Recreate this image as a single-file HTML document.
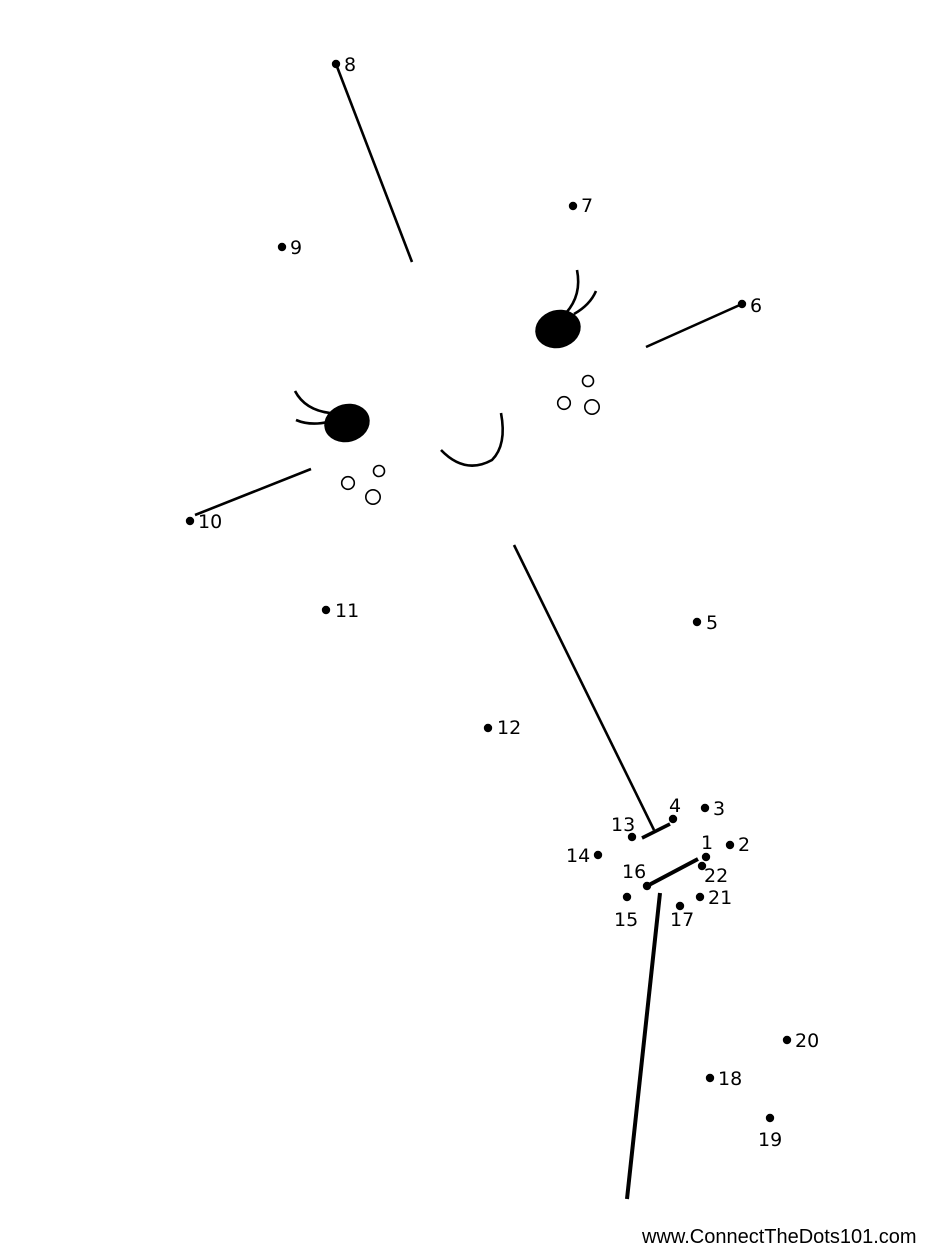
<!DOCTYPE html>
<html><head><meta charset="utf-8"><style>
html,body{margin:0;padding:0;background:#fff;}
svg{display:block}
text{font-family:"DejaVu Sans","Liberation Sans",sans-serif;font-size:19px;fill:#000}
</style></head><body>
<svg width="927" height="1250" viewBox="0 0 927 1250" xmlns="http://www.w3.org/2000/svg">
<g stroke="#000" fill="none" stroke-width="2.6" stroke-linecap="butt">
<line x1="336" y1="64" x2="412" y2="262"/>
<line x1="742" y1="304" x2="646" y2="347"/>
<line x1="195" y1="515" x2="311" y2="469"/>
<line x1="514" y1="545" x2="654" y2="830"/>
<line x1="642" y1="838" x2="670" y2="824" stroke-width="3.5"/>
<line x1="647" y1="886" x2="698" y2="859" stroke-width="4"/>
<line x1="660" y1="893" x2="627" y2="1199" stroke-width="4"/>
<path d="M566,313 Q582,295 577,270"/>
<path d="M574,314 Q590,305 596,291"/>
<path d="M295,391 Q305,410 330,413"/>
<path d="M296,420 Q310,426 328,422"/>
<path d="M441,450 Q465,475 492,460 Q507,445 501,413"/>
<circle cx="588" cy="381" r="5.5" stroke-width="1.6"/>
<circle cx="564" cy="403" r="6.3" stroke-width="1.6"/>
<circle cx="592" cy="407" r="7.2" stroke-width="1.6"/>
<circle cx="379" cy="471" r="5.5" stroke-width="1.6"/>
<circle cx="348" cy="483" r="6.3" stroke-width="1.6"/>
<circle cx="373" cy="497" r="7.2" stroke-width="1.6"/>
</g>
<ellipse cx="558" cy="329" rx="23" ry="19" transform="rotate(-15 558 329)" fill="#000"/>
<ellipse cx="347" cy="423" rx="23" ry="19" transform="rotate(-15 347 423)" fill="#000"/>
<g fill="#000">
<circle cx="336" cy="64" r="4.2"/><circle cx="573" cy="206" r="4.2"/><circle cx="282" cy="247" r="4.2"/>
<circle cx="742" cy="304" r="4.2"/><circle cx="190" cy="521" r="4.2"/><circle cx="326" cy="610" r="4.2"/>
<circle cx="697" cy="622" r="4.2"/><circle cx="488" cy="728" r="4.2"/><circle cx="705" cy="808" r="4.2"/>
<circle cx="673" cy="819" r="4.2"/><circle cx="632" cy="837" r="4.2"/><circle cx="730" cy="845" r="4.2"/>
<circle cx="598" cy="855" r="4.2"/><circle cx="706" cy="857" r="4.2"/><circle cx="702" cy="866" r="4.2"/>
<circle cx="647" cy="886" r="4.2"/><circle cx="627" cy="897" r="4.2"/><circle cx="700" cy="897" r="4.2"/>
<circle cx="680" cy="906" r="4.2"/><circle cx="787" cy="1040" r="4.2"/><circle cx="710" cy="1078" r="4.2"/>
<circle cx="770" cy="1118" r="4.2"/>
</g>
<text x="344" y="71">8</text>
<text x="581" y="212">7</text>
<text x="290" y="254">9</text>
<text x="750" y="312">6</text>
<text x="198" y="528">10</text>
<text x="335" y="617">11</text>
<text x="706" y="629">5</text>
<text x="497" y="734">12</text>
<text x="713" y="815">3</text>
<text x="669" y="812">4</text>
<text x="611" y="831">13</text>
<text x="738" y="851">2</text>
<text x="566" y="862">14</text>
<text x="701" y="849">1</text>
<text x="704" y="882">22</text>
<text x="622" y="878">16</text>
<text x="708" y="904">21</text>
<text x="614" y="926">15</text>
<text x="670" y="926">17</text>
<text x="795" y="1047">20</text>
<text x="718" y="1085">18</text>
<text x="758" y="1146">19</text>
<text x="642" y="1243" style="font-family:'Liberation Sans',sans-serif;font-size:20px">www.ConnectTheDots101.com</text>
</svg>
</body></html>
